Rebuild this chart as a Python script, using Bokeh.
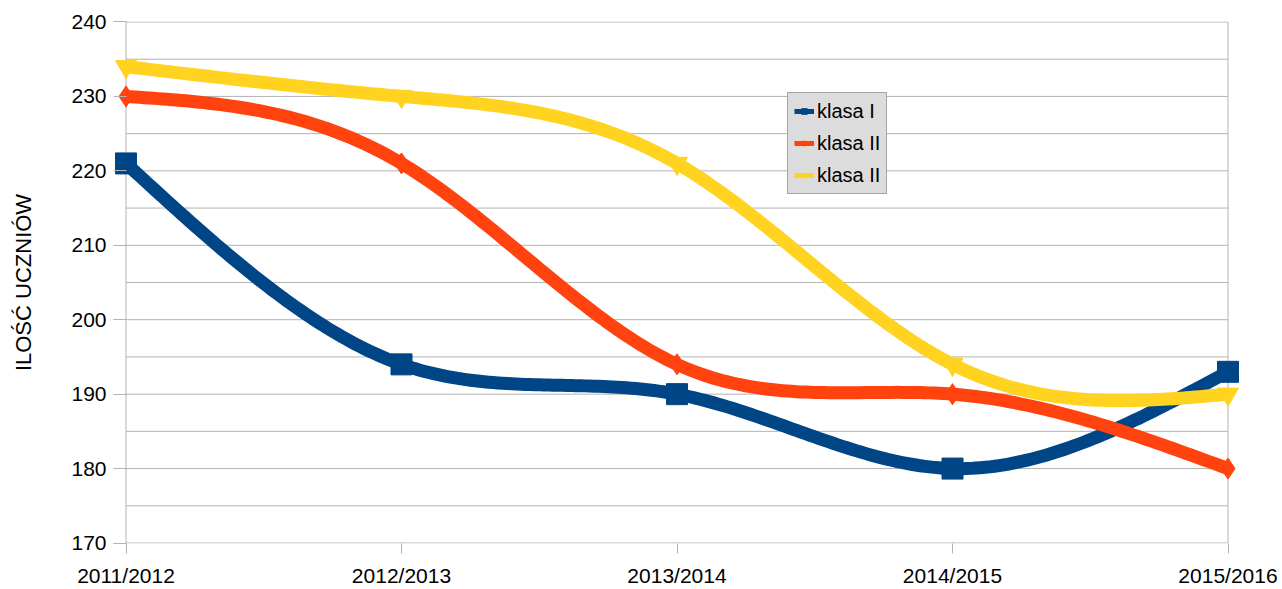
import numpy as np
from bokeh.plotting import figure
from bokeh.models import (Range1d, FixedTicker, Legend, LegendItem, ColumnDataSource)
from bokeh.embed import file_html
from bokeh.resources import INLINE

categories = ["2011/2012", "2012/2013", "2013/2014", "2014/2015", "2015/2016"]
klasa_1 = [221, 194, 190, 180, 193]
klasa_2 = [230, 221, 194, 190, 180]
klasa_3 = [234, 230, 221, 194, 190]
series_names = ["klasa I", "klasa II", "klasa II"]
colors = ["#004586", "#ff420e", "#ffd320"]
markers = ["square", "diamond", "inverted_triangle"]
y_major = list(range(170, 241, 10))
y_grid = list(range(170, 241, 5))

FONT = "Liberation Sans"
GRID = "#b3b3b3"


def natural_spline(xs, ys, n=60):
    xs = np.asarray(xs, float)
    ys = np.asarray(ys, float)
    k = len(xs)
    h = np.diff(xs)
    A = np.zeros((k, k))
    b = np.zeros(k)
    A[0, 0] = 1
    A[-1, -1] = 1
    for i in range(1, k - 1):
        A[i, i - 1] = h[i - 1]
        A[i, i] = 2 * (h[i - 1] + h[i])
        A[i, i + 1] = h[i]
        b[i] = 6 * ((ys[i + 1] - ys[i]) / h[i] - (ys[i] - ys[i - 1]) / h[i - 1])
    M = np.linalg.solve(A, b)
    out_x, out_y = [], []
    for i in range(k - 1):
        t = np.linspace(xs[i], xs[i + 1], n, endpoint=(i == k - 2))
        a = xs[i + 1] - t
        c = t - xs[i]
        hi = h[i]
        y = (M[i] * a ** 3 / (6 * hi) + M[i + 1] * c ** 3 / (6 * hi)
             + (ys[i] / hi - M[i] * hi / 6) * a + (ys[i + 1] / hi - M[i + 1] * hi / 6) * c)
        out_x.extend(t.tolist())
        out_y.extend(y.tolist())
    return out_x, out_y


xs = list(range(len(categories)))
n_cat = len(categories) - 1

# pixel geometry: categories span 1102 px, values 170..240 span 523 px
px_per_x = 1102 / n_cat
px_per_y = 523 / 70
xpad = 12.5 / px_per_x
ypad = 0.5 / px_per_y

p = figure(width=1282, height=589, output_backend="svg", toolbar_location=None,
           x_range=Range1d(-xpad, n_cat + xpad),
           y_range=Range1d(y_major[0] - ypad, y_major[-1] + ypad),
           min_border_left=113, min_border_right=42, min_border_top=21, min_border_bottom=44)
p.background_fill_color = "white"
p.border_fill_color = "white"
p.outline_line_color = None
p.xgrid.grid_line_color = None
p.ygrid.grid_line_color = None

# x axis
p.xaxis.ticker = FixedTicker(ticks=xs)
p.xaxis.major_label_overrides = {i: c for i, c in enumerate(categories)}
p.xaxis.axis_line_color = None
p.xaxis.major_tick_line_color = GRID
p.xaxis.major_tick_out = 10
p.xaxis.major_tick_in = 0
p.xaxis.minor_tick_line_color = None
p.xaxis.major_label_standoff = 10
p.xaxis.major_label_text_font = FONT
p.xaxis.major_label_text_font_size = "21px"
p.xaxis.major_label_text_color = "black"

# y axis
p.yaxis.ticker = FixedTicker(ticks=y_major)
p.yaxis.axis_line_color = None
p.yaxis.major_tick_line_color = GRID
p.yaxis.major_tick_out = 0
p.yaxis.major_tick_in = 13
p.yaxis.minor_tick_line_color = None
p.yaxis.major_label_standoff = 7
p.yaxis.major_label_text_font = FONT
p.yaxis.major_label_text_font_size = "21px"
p.yaxis.major_label_text_color = "black"
p.yaxis.axis_label = "ILOŚĆ UCZNIÓW"
p.yaxis.axis_label_text_font = FONT
p.yaxis.axis_label_text_font_size = "22px"
p.yaxis.axis_label_text_font_style = "normal"
p.yaxis.axis_label_text_color = "black"
p.yaxis.axis_label_standoff = 32

# grid lines and frame limited to the category span
p.segment(x0=[xs[0]] * len(y_grid), x1=[xs[-1]] * len(y_grid), y0=y_grid, y1=y_grid,
          line_color=GRID, line_width=1)
p.segment(x0=[xs[0], xs[-1]], x1=[xs[0], xs[-1]], y0=[y_grid[0]] * 2, y1=[y_grid[-1]] * 2,
          line_color=GRID, line_width=1)

items = []
for vals, name, col, mk in zip([klasa_1, klasa_2, klasa_3], series_names, colors, markers):
    sx, sy = natural_spline(xs, vals)
    p.line(sx, sy, line_color=col, line_width=13, line_join="round")
    p.scatter(xs, vals, marker=mk, size=21, fill_color=col, line_color=col)
    # legend-only glyphs
    dummy = ColumnDataSource(dict(x=[np.nan], y=[np.nan]))
    lr = p.line("x", "y", source=dummy, line_color=col, line_width=5)
    mr = p.scatter("x", "y", source=dummy, marker=mk, size=12, fill_color=col, line_color=col)
    items.append(LegendItem(label=name, renderers=[lr, mr]))

legend = Legend(items=items, location=(674, 349), margin=0, padding=6, spacing=8,
                glyph_width=20, glyph_height=14, label_height=24, label_standoff=3,
                label_text_font=FONT, label_text_font_size="20px", label_text_color="black",
                background_fill_color="#dcdcdc", background_fill_alpha=1.0,
                border_line_color="#6e6e6e", border_line_width=1)
p.add_layout(legend, "center")

open("out.html", "w").write(file_html(p, INLINE))
